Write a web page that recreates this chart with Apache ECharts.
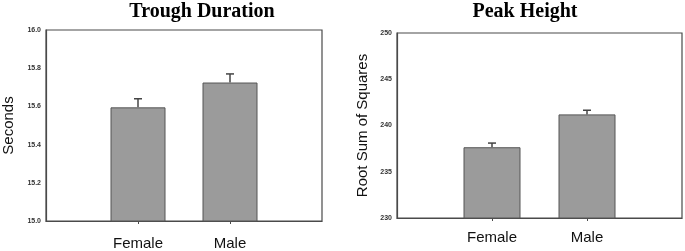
<!DOCTYPE html>
<html>
<head>
<meta charset="utf-8">
<script src="https://cdn.jsdelivr.net/npm/echarts@6/dist/echarts.min.js"></script>
<style>
  html,body{margin:0;padding:0;background:#fff;}
  #chart{width:685px;height:251px;}
</style>
</head>
<body>
<div id="chart"></div>
<script>
// categories padded with empty slots so bars sit at 1/3 and 2/3 of the box
const categories = ['', 'Female', 'Male', '']
const troughValues = [null, 15.595, 15.725, null]
const troughErrors = [null, 0.045, 0.045, null]
const peakValues = [null, 237.65, 241.2, null]
const peakErrors = [null, 0.45, 0.45, null]

const chart = echarts.init(document.getElementById('chart'))

const axisColor = '#4a4a4a'
const barColor = '#9b9b9b'

function xAxisCfg(gridIndex){
  return {
    type:'category',
    gridIndex:gridIndex,
    data:categories,
    boundaryGap:false,
    axisLine:{lineStyle:{color:axisColor,width:1.2}},
    axisTick:{
      show:true,
      length:3,
      lineStyle:{color:axisColor},
      interval:(i,v)=>v !== ''
    },
    axisLabel:{
      interval:0,
      margin:gridIndex === 0 ? 15 : 12,
      fontFamily:'Liberation Sans',
      fontSize:15,
      color:'#111'
    },
    splitLine:{show:false}
  }
}

function yAxisCfg(gridIndex, min, max, interval, name, digits, nameGap){
  return {
    type:'value',
    gridIndex:gridIndex,
    min:min, max:max, interval:interval,
    name:name,
    nameLocation:'middle',
    nameGap:nameGap,
    nameTextStyle:{fontFamily:'Liberation Sans',fontSize:gridIndex === 0 ? 15 : 15,color:'#111'},
    axisLine:{show:true,lineStyle:{color:axisColor,width:1.2}},
    axisTick:{show:false},
    splitLine:{show:false},
    axisLabel:{
      margin:5,
      fontFamily:'Liberation Sans',
      fontSize:7,
      fontWeight:'bold',
      color:'#333',
      formatter:v=>v.toFixed(digits)
    }
  }
}

// upward error bar with a cap, drawn via the axis scales
function errorSeries(idx, values, errors){
  const data = []
  values.forEach((v,i)=>{
    if(v != null) data.push([i, v, v + errors[i]])
  })
  return {
    type:'custom',
    xAxisIndex:idx, yAxisIndex:idx,
    z:1,
    encode:{x:0, y:[1,2]},
    data:data,
    renderItem:(params, api)=>{
      const base = api.coord([api.value(0), api.value(1)])
      const top = api.coord([api.value(0), api.value(2)])
      const cap = 4
      const st = {stroke:'#444', lineWidth:1.5}
      return {
        type:'group',
        children:[
          {type:'line', shape:{x1:base[0],y1:base[1],x2:top[0],y2:top[1]}, style:st},
          {type:'line', shape:{x1:top[0]-cap,y1:top[1],x2:top[0]+cap,y2:top[1]}, style:st}
        ]
      }
    }
  }
}

const option = {
  animation:false,
  title:[
    {text:'Trough Duration', left:197, top:-3, textAlign:'center',
      textStyle:{fontFamily:'Liberation Serif',fontWeight:'bold',fontSize:20,color:'#000'}},
    {text:'Peak Height', left:520, top:-3, textAlign:'center',
      textStyle:{fontFamily:'Liberation Serif',fontWeight:'bold',fontSize:20,color:'#000'}}
  ],
  grid:[
    {left:45, right:363, top:30, bottom:29, show:true, borderColor:axisColor, borderWidth:1.2},
    {left:397, right:-2, top:33, bottom:33, show:true, borderColor:axisColor, borderWidth:1.2}
  ],
  xAxis:[xAxisCfg(0), xAxisCfg(1)],
  yAxis:[
    yAxisCfg(0, 15.0, 16.0, 0.2, 'Seconds', 1, 30),
    yAxisCfg(1, 230, 250, 5, 'Root Sum of Squares', 0, 27)
  ],
  series:[
    {type:'bar', xAxisIndex:0, yAxisIndex:0, data:troughValues, barWidth:55, z:2,
      itemStyle:{color:barColor,borderColor:'#555',borderWidth:1}},
    errorSeries(0, troughValues, troughErrors),
    {type:'bar', xAxisIndex:1, yAxisIndex:1, data:peakValues, barWidth:57, z:2,
      itemStyle:{color:barColor,borderColor:'#555',borderWidth:1}},
    errorSeries(1, peakValues, peakErrors)
  ]
}
chart.setOption(option)
</script>
</body>
</html>
